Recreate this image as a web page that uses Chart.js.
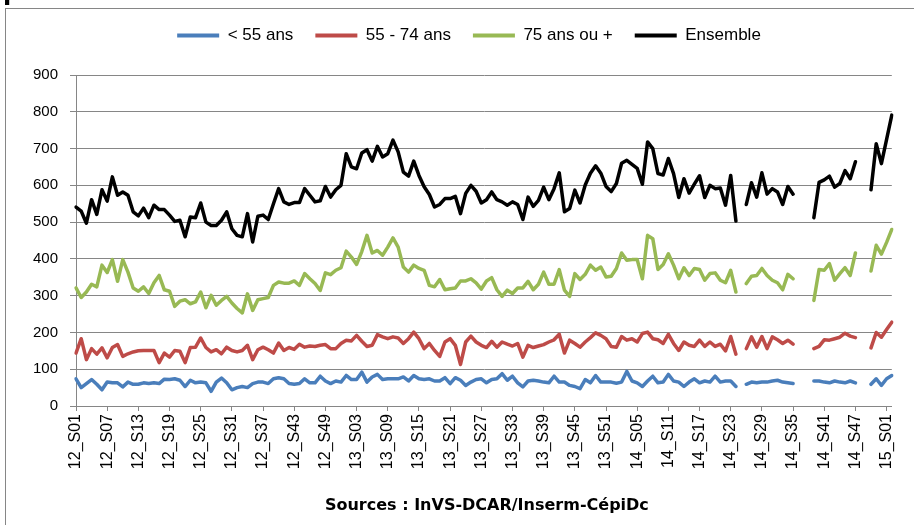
<!DOCTYPE html>
<html>
<head>
<meta charset="utf-8">
<script src="https://cdn.jsdelivr.net/npm/chart.js@4.4.1/dist/chart.umd.min.js"></script>
<style>
  html, body { margin: 0; padding: 0; background: #fff; }
</style>
</head>
<body>
<canvas id="chart" width="914" height="525"></canvas>
<script>
// ── Categories: weekly labels 12_S01 … 15_S02 ───────────────────
const YEARS = ['12', '13', '14', '15'];
const WEEKS_PER_YEAR = [52, 52, 52, 2];
const LABEL_STEP = 6;   // one tick label every 6 weeks

const weeks = [];
YEARS.forEach((yy, k) => {
  for (let w = 1; w <= WEEKS_PER_YEAR[k]; w++) weeks.push(yy + '_S' + String(w).padStart(2, '0'));
});

// ── Series values (null = missing week) ─
const under55 = [
  74, 50, 61, 72, 59, 44, 65, 63, 63, 52, 65, 59, 59, 63, 61, 63, 61, 73, 72, 74, 70, 53, 70, 63, 65,
  63, 40, 65, 76, 63, 44, 50, 53, 50, 61, 65, 65, 61, 74, 77, 74, 61, 59, 61, 74, 63, 63, 81, 68, 61, 68, 65,
  83, 72, 72, 92, 65, 79, 86, 72, 74, 74, 74, 79, 68, 83, 74, 72, 74, 68, 68, 77, 61, 77, 70, 56, 65, 72, 74,
  63, 72, 74, 88, 70, 81, 63, 52, 68, 70, 68, 65, 63, 81, 65, 65, 56, 53, 47, 72, 63, 83, 65, 65, 65, 62, 65,
  94, 68, 63, 53, 68, 81, 63, 65, 86, 68, 65, 53, 65, 74, 63, 68, 65, 81, 65, 68, 68, 53,
  null, 59, 65, 63, 65, 65, 68, 70, 65, 63, 61,
  null, null, null, 68, 68, 65, 63, 68, 65, 63, 68, 63,
  null, null, 59, 74, 56, 74, 83,
];

const age55to74 = [
  144, 183, 126, 156, 141, 158, 131, 159, 167, 135, 142, 147, 150, 151, 151, 151, 118, 144, 133, 151, 149, 118, 159, 160, 185,
  159, 147, 153, 142, 160, 151, 147, 151, 165, 126, 153, 160, 153, 144, 171, 151, 159, 154, 168, 160, 163, 162, 165, 167, 156, 156, 170,
  179, 177, 192, 176, 162, 165, 194, 188, 183, 188, 185, 170, 183, 201, 183, 156, 170, 151, 135, 174, 183, 165, 113, 174, 190, 174, 165,
  159, 176, 160, 174, 168, 163, 170, 133, 165, 159, 163, 167, 174, 180, 195, 144, 179, 170, 160, 174, 186, 199, 192, 183, 162, 160, 189,
  179, 183, 174, 197, 201, 183, 180, 170, 195, 170, 151, 174, 165, 162, 179, 162, 174, 162, 168, 150, 189, 141,
  null, 156, 188, 160, 189, 156, 188, 180, 170, 179, 168,
  null, null, null, 156, 162, 180, 179, 183, 187, 198, 190, 186,
  null, null, 158, 200, 187, 208, 228,
];

const age75plus = [
  321, 295, 310, 331, 324, 383, 363, 398, 339, 398, 364, 321, 312, 324, 306, 335, 355, 316, 312, 271,
  285, 289, 278, 283, 310, 267, 301, 274, 287, 298, 280, 265, 253, 305, 260, 289, 292, 295, 328, 337,
  334, 334, 340, 328, 360, 346, 333, 314, 362, 357, 369, 376,
  421, 405, 385, 420,
  464, 416, 423, 410, 432, 457, 432, 378, 364, 383, 374, 369, 328, 324, 344, 316, 319, 321, 340, 340, 346, 335, 318,
  340, 349, 316, 298, 315, 306, 321, 321, 339, 316, 331, 364, 331, 331, 371, 315, 298, 360, 344, 358, 383, 369, 378, 351, 353, 374, 416,
  396, 398, 398, 346, 464, 455, 371, 385, 414, 383, 346, 376, 355, 374, 371, 342, 360, 362, 342, 335, 369, 310,
  null, 333, 353, 355, 374, 355, 342, 335, 316, 358, 346,
  null, null, null, 287, 371, 369, 387, 342, 360, 376, 355, 416,
  null, null, 367, 437, 413, 445, 480,
];

const ensemble = [
  541, 530, 497, 561, 521, 588, 557, 623, 573, 582, 573, 528, 517, 538, 512, 546, 534, 534, 519, 502, 505, 460, 514, 512, 552,
  500, 491, 491, 505, 528, 482, 464, 460, 523, 446, 516, 519, 507, 550, 591, 555, 548, 553, 553, 591, 573, 555, 558, 597, 568, 588, 600,
  686, 650, 645, 688, 697, 666, 706, 677, 686, 723, 691, 636, 625, 666, 627, 596, 575, 541, 548, 564, 564, 570, 523, 578, 600, 584, 552,
  561, 582, 561, 555, 546, 555, 548, 507, 568, 543, 559, 595, 561, 591, 634, 528, 537, 587, 552, 601, 633, 653, 633, 597, 583, 605, 660,
  668, 657, 646, 603, 718, 700, 632, 628, 673, 632, 567, 618, 579, 603, 626, 567, 600, 591, 593, 546, 627, 503,
  null, 548, 607, 568, 634, 576, 591, 582, 548, 597, 576,
  null, null, null, 512, 608, 615, 625, 595, 605, 640, 618, 664,
  null, null, 588, 713, 659, 725, 791,
];

const SERIES_NAMES  = ['< 55 ans', '55 - 74 ans', '75 ans ou +', 'Ensemble'];
const SERIES_COLORS = ['#4A7EBB', '#BE4B48', '#98B954', '#000000'];
const SERIES_DATA   = [under55, age55to74, age75plus, ensemble];

const Y_TICKS = [0, 100, 200, 300, 400, 500, 600, 700, 800, 900];
const SOURCE_NOTE = 'Sources : InVS-DCAR/Inserm-CépiDc';

const AXIS_GREY = '#868686';
const FONT = '"Liberation Sans", Arial, sans-serif';
const LEGEND_CENTER_X = 469;

// ── Plugins: frame / source note, legend placement ──────────────
const chartFrame = {
  id: 'chartFrame',
  beforeDraw(chart) {
    const { ctx } = chart;
    ctx.save();
    ctx.fillStyle = '#fff';
    ctx.fillRect(0, 0, chart.width, chart.height);
    ctx.strokeStyle = AXIS_GREY;
    ctx.lineWidth = 1;
    ctx.strokeRect(5.5, 8.5, chart.width + 40, chart.height + 40);
    // cropped-off title above the frame: only its descender shows
    ctx.fillStyle = '#000';
    ctx.font = 'bold 24px "DejaVu Sans", sans-serif';
    ctx.textBaseline = 'alphabetic';
    ctx.fillText('p', 3, 0);
    ctx.restore();
  },
  afterDraw(chart) {
    const { ctx, chartArea } = chart;
    ctx.save();
    ctx.fillStyle = '#000';
    ctx.textAlign = 'center';
    ctx.textBaseline = 'middle';
    ctx.font = 'bold 16px "DejaVu Sans", Verdana, sans-serif';
    ctx.fillText(SOURCE_NOTE, (chartArea.left + chartArea.right) / 2 + 3, 506);
    ctx.restore();
  },
};

const legendPlace = {
  id: 'legendPlace',
  beforeInit(chart) {
    const fit = chart.legend.fit;
    chart.legend.fit = function () {
      fit.bind(chart.legend)();
      this.height += 21;
    };
  },
  afterLayout(chart) {
    const lg = chart.legend;
    const shift = LEGEND_CENTER_X - (lg.left + lg.right) / 2;
    lg.left += shift;
    lg.right += shift;
  },
};

// ── Chart ───────────────────────────────────────────────────────
new Chart(document.getElementById('chart'), {
  type: 'line',
  data: {
    labels: weeks,
    datasets: SERIES_DATA.map((data, i) => ({
      label: SERIES_NAMES[i],
      data,
      borderColor: SERIES_COLORS[i],
      backgroundColor: SERIES_COLORS[i],
      borderWidth: 3.5,
      borderJoinStyle: 'round',
      borderCapStyle: 'round',
      pointRadius: 0,
      tension: 0,
      spanGaps: false,
      order: SERIES_DATA.length - 1 - i,
    })),
  },
  options: {
    responsive: false,
    animation: false,
    devicePixelRatio: 1,
    layout: { padding: { top: 5, left: 16, right: 16, bottom: 55 } },
    plugins: {
      tooltip: { enabled: false },
      legend: {
        position: 'top',
        labels: {
          boxWidth: 42,
          boxHeight: 4,
          padding: 22,
          color: '#000',
          font: { family: FONT, size: 17 },
          generateLabels: (chart) => chart.data.datasets.map((ds, i) => ({
            text: ds.label,
            fillStyle: ds.borderColor,
            strokeStyle: ds.borderColor,
            lineWidth: 0,
            datasetIndex: i,
          })),
        },
      },
    },
    scales: {
      x: {
        type: 'category',
        offset: false,
        grid: {
          drawOnChartArea: false,
          tickLength: 5,
          color: (c) => (c.index % LABEL_STEP === 0 ? AXIS_GREY : 'rgba(0,0,0,0)'),
          tickColor: (c) => (c.index % LABEL_STEP === 0 ? AXIS_GREY : 'rgba(0,0,0,0)'),
        },
        border: { color: AXIS_GREY, width: 1 },
        ticks: {
          autoSkip: false,
          minRotation: 90,
          maxRotation: 90,
          padding: 3,
          color: '#000',
          font: { family: FONT, size: 16 },
          callback: (val, idx) => (idx % LABEL_STEP === 0 ? weeks[idx] : ''),
        },
        afterFit: (scale) => { scale.height = 64; },
      },
      y: {
        min: Y_TICKS[0],
        max: Y_TICKS[Y_TICKS.length - 1],
        afterBuildTicks: (scale) => { scale.ticks = Y_TICKS.map((v) => ({ value: v })); },
        grid: { color: AXIS_GREY, lineWidth: 1, tickLength: 6 },
        border: { color: AXIS_GREY, width: 1 },
        ticks: {
          padding: 12,
          color: '#000',
          font: { family: FONT, size: 15 },
        },
        afterFit: (scale) => { scale.width = 60; },
      },
    },
  },
  plugins: [chartFrame, legendPlace],
});
</script>
</body>
</html>
